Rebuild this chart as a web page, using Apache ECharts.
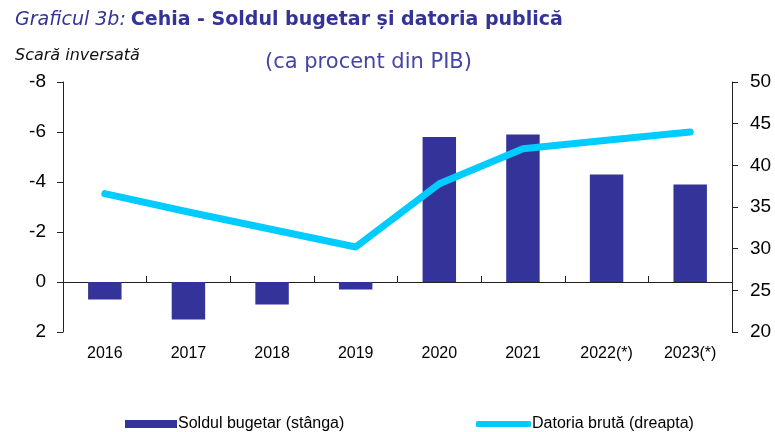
<!DOCTYPE html>
<html>
<head>
<meta charset="utf-8">
<script src="https://cdn.jsdelivr.net/npm/echarts@6/dist/echarts.min.js"></script>
<style>
  html, body { margin: 0; padding: 0; background: #fff; }
  #chart { width: 775px; height: 432px; }
</style>
</head>
<body>
<div id="chart"></div>
<script>
  // date
  var years = ['2016', '2017', '2018', '2019', '2020', '2021', '2022(*)', '2023(*)']
  var soldBugetar = [0.7, 1.5, 0.9, 0.3, -5.8, -5.9, -4.3, -3.9]
  var datoriaBruta = [36.6, 34.4, 32.3, 30.2, 37.8, 42.0, 43.0, 44.0]
  var leftTicks = {min: -8, max: 2, interval: 2}
  var rightTicks = {min: 20, max: 50, interval: 5}

  var navy = '#333399'
  var cyan = '#00ccff'

  var chart = echarts.init(document.getElementById('chart'))
  chart.setOption({
    animation: false,
    title: [
      {
        left: 10, top: 6,
        text: '{i|Graficul 3b:} {b|Cehia - Soldul bugetar și datoria publică}',
        textStyle: {
          rich: {
            i: {fontFamily: 'DejaVu Sans', fontStyle: 'italic', fontWeight: 'normal', fontSize: 19, color: navy},
            b: {fontFamily: 'DejaVu Sans', fontWeight: 'bold', fontSize: 19, color: navy}
          }
        }
      },
      {
        left: 10, top: 43,
        text: 'Scară inversată',
        textStyle: {fontFamily: 'DejaVu Sans', fontStyle: 'italic', fontWeight: 'normal', fontSize: 16, color: '#111'}
      },
      {
        left: 260, top: 47,
        text: '(ca procent din PIB)',
        textStyle: {fontFamily: 'DejaVu Sans', fontWeight: 'normal', fontSize: 21, color: '#4545a8'}
      }
    ],
    legend: [
      {
        left: 120, top: 411,
        itemWidth: 52, itemHeight: 8, itemGap: 10,
        icon: 'rect',
        data: ['Soldul bugetar (stânga)'],
        textStyle: {fontFamily: 'Liberation Sans', fontSize: 16, color: '#000', padding: [0, 0, 0, -4]}
      },
      {
        left: 471, top: 411,
        itemWidth: 55, itemHeight: 6,
        icon: 'roundRect',
        data: ['Datoria brută (dreapta)'],
        textStyle: {fontFamily: 'Liberation Sans', fontSize: 16, color: '#000', padding: [0, 0, 0, -4]}
      }
    ],
    grid: {left: 63, right: 43, top: 82, bottom: 100},
    xAxis: [
      {
        type: 'category',
        data: years,
        axisLine: {onZero: true, onZeroAxisIndex: 0, lineStyle: {color: '#222', width: 1}},
        axisTick: {show: true, inside: true, length: 6, lineStyle: {color: '#222'}},
        axisLabel: {show: false}
      },
      {
        type: 'category',
        data: years,
        position: 'bottom',
        axisLine: {show: false, onZero: false},
        axisTick: {show: false},
        axisLabel: {margin: 14, fontFamily: 'Liberation Sans', fontSize: 16, color: '#000'}
      }
    ],
    yAxis: [
      {
        type: 'value',
        inverse: true,
        min: leftTicks.min, max: leftTicks.max, interval: leftTicks.interval,
        splitLine: {show: false},
        axisLine: {show: true, lineStyle: {color: '#222'}},
        axisTick: {show: true, length: 6, lineStyle: {color: '#222'}},
        axisLabel: {margin: 17, fontFamily: 'Liberation Sans', fontSize: 19, color: '#000'}
      },
      {
        type: 'value',
        position: 'right',
        min: rightTicks.min, max: rightTicks.max, interval: rightTicks.interval,
        splitLine: {show: false},
        axisLine: {show: true, lineStyle: {color: '#222'}},
        axisTick: {show: true, length: 6, lineStyle: {color: '#222'}},
        axisLabel: {margin: 18, fontFamily: 'Liberation Sans', fontSize: 19, color: '#000'}
      }
    ],
    series: [
      {
        name: 'Soldul bugetar (stânga)',
        type: 'bar',
        xAxisIndex: 0,
        yAxisIndex: 0,
        barWidth: '40%',
        itemStyle: {color: navy},
        data: soldBugetar
      },
      {
        name: 'Datoria brută (dreapta)',
        type: 'line',
        xAxisIndex: 0,
        yAxisIndex: 1,
        showSymbol: false,
        symbol: 'none',
        itemStyle: {color: cyan},
        lineStyle: {color: cyan, width: 7, cap: 'round', join: 'round'},
        data: datoriaBruta
      }
    ]
  })
</script>
</body>
</html>
